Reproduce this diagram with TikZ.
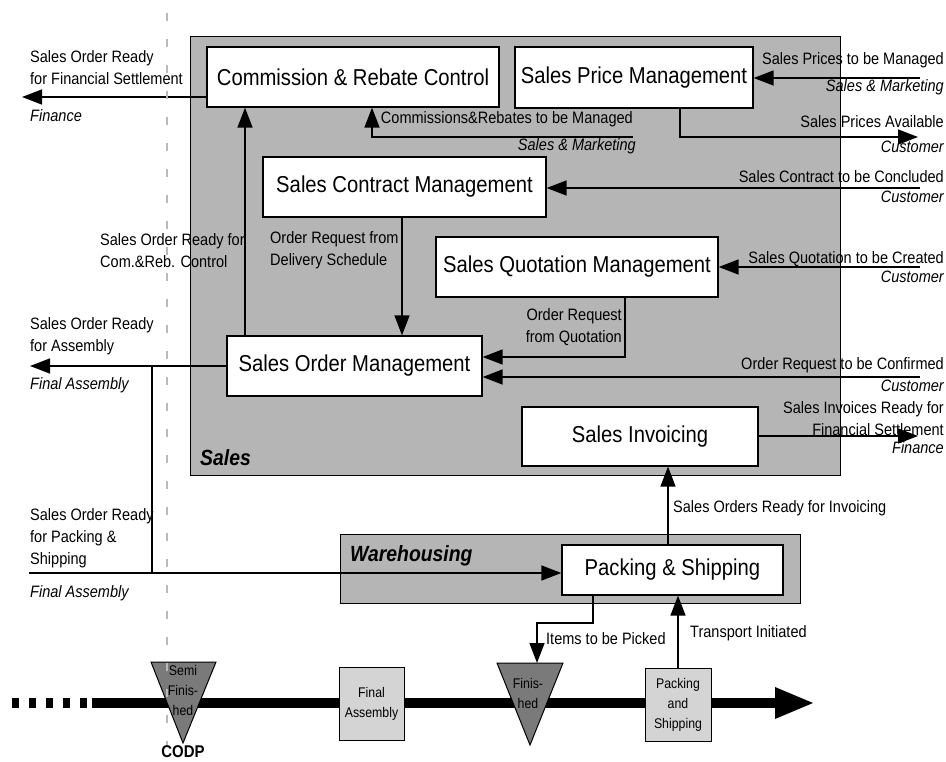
\documentclass[tikz,border=0pt]{standalone}
\usepackage{fontspec}
\setmainfont{Liberation Sans}[FakeStretch=0.88]
\usetikzlibrary{arrows.meta}

\definecolor{regiongray}{gray}{0.71}
\definecolor{stepgray}{gray}{0.83}
\definecolor{stockgray}{gray}{0.48}

\begin{document}
\begin{tikzpicture}[x=1pt,y=-1pt,
  arr/.style={line width=1.5pt,-{Triangle[length=20pt,width=15pt]}},
  conn/.style={line width=1.5pt},
  fnbox/.style={draw,line width=1.3pt,fill=white,inner sep=0pt,
    font=\fontsize{23}{26}\selectfont},
  stepbox/.style={draw,line width=1pt,fill=stepgray,inner sep=0pt,align=center,
    font=\fontsize{14}{20}\selectfont},
  region/.style={draw,line width=1pt,fill=regiongray},
  regionlbl/.style={inner sep=0pt,anchor=west,font=\fontsize{22}{24}\selectfont\bfseries\itshape},
  lbl/.style={inner sep=0pt,font=\fontsize{16.5}{22}\selectfont},
  ext/.style={inner sep=0pt,font=\fontsize{16.5}{22}\selectfont\itshape},
  stocktxt/.style={inner sep=0pt,align=center,font=\fontsize{14}{20}\selectfont}]

\useasboundingbox (0,0) rectangle (946,762);

% organisational units
\path[region] (190,37) rectangle (840,475);
\path[region] (340,534) rectangle (800,603);
\node[regionlbl] (salesLbl) at (200,458) {Sales};
\node[regionlbl] (whLbl) at (350,556) {Warehousing};

% process functions
\node[fnbox,minimum width=292pt,minimum height=60pt] (crc)  at (353,77)    {Commission \& Rebate Control};
\node[fnbox,minimum width=238pt,minimum height=61pt] (spm)  at (634,77.5)  {Sales Price Management};
\node[fnbox,minimum width=283pt,minimum height=60pt] (scm)  at (404.5,187) {Sales Contract Management};
\node[fnbox,minimum width=282pt,minimum height=60pt] (sqm)  at (577,267)   {Sales Quotation Management};
\node[fnbox,minimum width=255pt,minimum height=60pt] (som)  at (354.5,366) {Sales Order Management};
\node[fnbox,minimum width=236pt,minimum height=59pt] (sinv) at (640,436.5) {Sales Invoicing};
\node[fnbox,minimum width=221pt,minimum height=50pt] (pas)  at (672.5,570) {Packing \& Shipping};

% free ends of the interface flows
\coordinate (finOut)  at (22,97);
\coordinate (comX)    at (245,0);
\coordinate (crmIn)   at (633,137);
\coordinate (spIn)    at (920,78);
\coordinate (spOut)   at (918,137);
\coordinate (scIn)    at (920,188);
\coordinate (sqIn)    at (920,267);
\coordinate (dsX)     at (402,0);
\coordinate (orIn)    at (920,377);
\coordinate (invOut)  at (918,436);
\coordinate (invX)    at (668,0);
\coordinate (asmOut)  at (30,366);
\coordinate (brTop)   at (152,366);
\coordinate (brBot)   at (152,573);
\coordinate (psStart) at (29,573);
\coordinate (pickA)   at (593,623);
\coordinate (pickB)   at (537,623);
\coordinate (finTop)  at (537,663);

% flows
\draw[arr] (crc.west |- finOut) -- (finOut);
\draw[arr] (som.north -| comX) -- (crc.south -| comX);
\draw[arr] (crmIn) -| ([xshift=19pt]crc.south);
\draw[arr] (spIn) -- (spm.east |- spIn);
\draw[arr] ([xshift=46pt]spm.south) |- (spOut);
\draw[arr] (scIn) -- (scm.east |- scIn);
\draw[arr] (sqIn) -- (sqm.east |- sqIn);
\draw[arr] (scm.south -| dsX) -- (som.north -| dsX);
\draw[arr] ([xshift=48pt]sqm.south) |- ([yshift=9pt]som.east);
\draw[arr] (orIn) -- (som.east |- orIn);
\draw[arr] (sinv.east |- invOut) -- (invOut);
\draw[arr] (pas.north -| invX) -- (sinv.south -| invX);
\draw[arr] (som.west |- asmOut) -- (asmOut);
\draw[conn] (brTop) -- (brBot);
\draw[arr] (psStart) -- (pas.west |- psStart);
\draw[arr] (pas.south -| pickA) |- (pickB) -- (finTop);

% flow labels, left side
\node[lbl,anchor=west,align=left] (lFin) at (30,68) {Sales Order Ready\\for Financial Settlement};
\node[ext,anchor=west] (lFinE) at (30,116) {Finance};
\node[lbl,anchor=west,align=left] (lCom) at (100,251) {Sales Order Ready for\\Com.\&Reb. Control};
\node[lbl,anchor=west,align=left] (lAsm) at (30,336) {Sales Order Ready\\for Assembly};
\node[ext,anchor=west] (lAsmE) at (30,385) {Final Assembly};
\node[lbl,anchor=west,align=left] (lPack) at (30,538) {Sales Order Ready\\for Packing \&\\Shipping};
\node[ext,anchor=west] (lPackE) at (30,593) {Final Assembly};

% flow labels, inside
\node[lbl,anchor=east] (lCrm) at (633,119) {Commissions\&Rebates to be Managed};
\node[ext,anchor=east] (lCrmE) at (636,146) {Sales \& Marketing};
\node[lbl,anchor=west,align=left] (lDs) at (270,250) {Order Request from\\Delivery Schedule};
\node[lbl,anchor=east,align=right] (lOq) at (622,327) {Order Request\\from Quotation};
\node[lbl,anchor=west] (lInv) at (673,508) {Sales Orders Ready for Invoicing};
\node[lbl,anchor=west] (lPick) at (546,639) {Items to be Picked};
\node[lbl,anchor=west] (lTr) at (690,633) {Transport Initiated};

% flow labels, right side
\node[lbl,anchor=east] (rSp) at (944,60) {Sales Prices to be Managed};
\node[ext,anchor=east] (rSpE) at (944,87) {Sales \& Marketing};
\node[lbl,anchor=east] (rAv) at (944,122) {Sales Prices Available};
\node[ext,anchor=east] (rAvE) at (944,147) {Customer};
\node[lbl,anchor=east] (rSc) at (944,177) {Sales Contract to be Concluded};
\node[ext,anchor=east] (rScE) at (944,197) {Customer};
\node[lbl,anchor=east] (rSq) at (944,259) {Sales Quotation to be Created};
\node[ext,anchor=east] (rSqE) at (944,277) {Customer};
\node[lbl,anchor=east] (rOr) at (944,365) {Order Request to be Confirmed};
\node[ext,anchor=east] (rOrE) at (944,386) {Customer};
\node[lbl,anchor=east,align=right] (rInv) at (944,419) {Sales Invoices Ready for\\Financial Settlement};
\node[ext,anchor=east] (rInvE) at (944,448) {Finance};

% material flow line
\coordinate (tlA) at (12,703);
\coordinate (tlB) at (92,703);
\coordinate (tlC) at (776,703);
\coordinate (tlTip) at (813,703);
\draw[line width=10pt,dash pattern=on 7pt off 10pt] (tlA) -- (tlB);
\draw[line width=10pt] (tlB) -- (tlC);
\fill (775,687) -- (tlTip) -- (775,719) -- cycle;

% stock points and steps
\filldraw[fill=stockgray,line width=1pt] (151,662) -- (216,662) -- (183,743) -- cycle;
\node[stocktxt] (semi) at (183,690) {Semi\\Finis-\\hed};
\filldraw[fill=stockgray,line width=1pt] (497,663) -- (563,663) -- (530,745) -- cycle;
\node[stocktxt] (fin) at (528,693) {Finis-\\hed};
\node[stepbox,minimum width=65pt,minimum height=73pt] (fa) at (371.5,703.5) {Final\\Assembly};
\node[stepbox,minimum width=66pt,minimum height=73pt] (pk) at (678,704.5) {Packing\\and\\Shipping};
\draw[arr] (pk.north) -- (pas.south -| pk.north);
\node[inner sep=0pt,font=\fontsize{17}{20}\selectfont\bfseries] (codp) at (183,752) {CODP};

% decoupling point marker
\coordinate (dpTop) at (167,13);
\coordinate (dpBot) at (167,745);
\draw[gray!55,line width=1.2pt,dash pattern=on 8pt off 18pt] (dpTop) -- (dpBot);

\end{tikzpicture}
\end{document}
